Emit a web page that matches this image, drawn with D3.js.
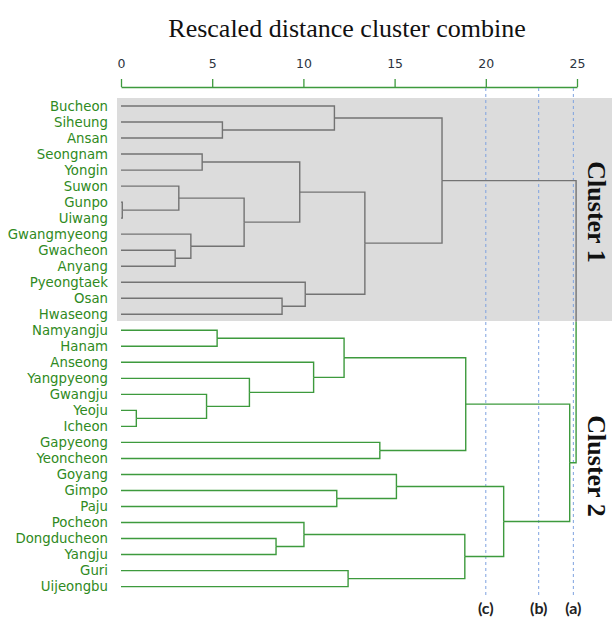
<!DOCTYPE html>
<html>
<head>
<meta charset="utf-8">
<script src="https://cdn.jsdelivr.net/npm/d3@7"></script>
<style>
  html, body { margin: 0; padding: 0; background: #fff; }
  svg { display: block; }
</style>
</head>
<body>
<svg id="chart" width="612" height="617"></svg>
<script>
// ---- data ----
const leaves = ["Bucheon","Siheung","Ansan","Seongnam","Yongin","Suwon","Gunpo","Uiwang",
  "Gwangmyeong","Gwacheon","Anyang","Pyeongtaek","Osan","Hwaseong",
  "Namyangju","Hanam","Anseong","Yangpyeong","Gwangju","Yeoju","Icheon","Gapyeong",
  "Yeoncheon","Goyang","Gimpo","Paju","Pocheon","Dongducheon","Yangju","Guri","Uijeongbu"];
const cluster1 = leaves.slice(0, 14);
// merge steps: each pair joins two leaves (by name) or earlier merges ("m" + index)
const mergePairs = [
  ["Gunpo","Uiwang"],["Yeoju","Icheon"],["Gwacheon","Anyang"],["Suwon","m0"],
  ["Gwangmyeong","m2"],["Seongnam","Yongin"],["Gwangju","m1"],["Namyangju","Hanam"],
  ["Siheung","Ansan"],["m3","m4"],["Yangpyeong","m6"],["Dongducheon","Yangju"],
  ["Osan","Hwaseong"],["m5","m9"],["Pocheon","m11"],["Pyeongtaek","m12"],
  ["Anseong","m10"],["Bucheon","m8"],["Gimpo","Paju"],["m7","m16"],
  ["Guri","Uijeongbu"],["m13","m15"],["Gapyeong","Yeoncheon"],["Goyang","m18"],
  ["m17","m21"],["m14","m20"],["m19","m22"],["m23","m25"],["m26","m27"],["m24","m28"]
];
const mergeHeights = [0.07,0.84,2.97,3.17,3.83,4.45,4.69,5.27,5.56,6.75,7.04,8.5,8.83,9.8,
  10.03,10.1,10.56,11.7,11.83,12.23,12.45,13.37,14.19,15.1,17.6,18.85,18.9,20.98,24.6,24.95];
const axisTicks = [0,5,10,15,20,25];
const cutLevels = [20, 22.9, 24.8];
const cutLabels = ["(c)","(b)","(a)"];
const clusterLabels = ["Cluster 1","Cluster 2"];

// ---- scales ----
const svg = d3.select("#chart");
const x = d3.scaleLinear().domain([0, 25]).range([121, 577]);
const y = d3.scalePoint().domain(leaves).range([106, 586.6]);

const greyLine = "#737373", greenLine = "#3d9a3d", labelGreen = "#2f8a22";

// node positions
const nodes = {};
leaves.forEach(l => nodes[l] = {h: 0, y: y(l), c1: cluster1.includes(l)});
mergePairs.forEach((p, i) => {
  const a = nodes[p[0]], b = nodes[p[1]];
  nodes["m" + i] = {h: mergeHeights[i], y: (a.y + b.y) / 2, c1: a.c1 && b.c1, kids: p};
});

// grey background for cluster 1
svg.append("rect")
  .attr("x", 117).attr("y", 98)
  .attr("width", 612 - 117).attr("height", 321 - 98)
  .attr("fill", "#dcdcdc");

// title
svg.append("text")
  .attr("x", 347).attr("y", 37)
  .attr("text-anchor", "middle")
  .attr("font-family", "Liberation Serif, Times New Roman, serif")
  .attr("font-size", 26)
  .attr("fill", "#111")
  .text("Rescaled distance cluster combine");

// axis
const axis = svg.append("g")
  .attr("transform", "translate(0,87)")
  .call(d3.axisTop(x).tickValues(axisTicks).tickSize(8).tickSizeOuter(0).tickPadding(11));
axis.select(".domain").attr("stroke", "#3d9a3d").attr("stroke-width", 1.3);
axis.selectAll(".tick line").attr("stroke", "#3d9a3d").attr("stroke-width", 1.3);
axis.selectAll(".tick text")
  .attr("font-family", "DejaVu Sans, Verdana, sans-serif")
  .attr("font-size", 12.5)
  .attr("fill", "#2c3440");

// cut lines
const cuts = svg.append("g");
cutLevels.forEach((v, i) => {
  cuts.append("line")
    .attr("x1", x(v)).attr("x2", x(v))
    .attr("y1", 88).attr("y2", 598)
    .attr("stroke", "#7ea2e0").attr("stroke-width", 1)
    .attr("stroke-dasharray", "3,3");
  cuts.append("text")
    .attr("x", x(v)).attr("y", 614)
    .attr("text-anchor", "middle")
    .attr("font-family", "Lato, Open Sans, sans-serif")
    .attr("font-weight", "bold")
    .attr("font-size", 16)
    .attr("fill", "#222")
    .text(cutLabels[i]);
});

// links
const links = svg.append("g").attr("fill", "none").attr("stroke-width", 1.4);
Object.keys(nodes).forEach(k => {
  const n = nodes[k];
  if (!n.kids) return;
  n.kids.forEach(ck => {
    const c = nodes[ck];
    const p = d3.path();
    p.moveTo(x(c.h), c.y);
    p.lineTo(x(n.h), c.y);
    p.lineTo(x(n.h), n.y);
    links.append("path")
      .attr("d", p.toString())
      .attr("stroke", c.c1 ? greyLine : greenLine);
  });
});

// leaf labels
svg.append("g").selectAll("text")
  .data(leaves)
  .join("text")
  .attr("x", 108).attr("y", d => y(d))
  .attr("dy", "0.36em")
  .attr("text-anchor", "end")
  .attr("font-family", "DejaVu Sans, Verdana, sans-serif")
  .attr("font-size", 13.3)
  .attr("fill", labelGreen)
  .text(d => d);

// cluster labels (rotated)
const clusterCenters = [212, 466];
clusterLabels.forEach((t, i) => {
  svg.append("text")
    .attr("transform", `translate(588,${clusterCenters[i]}) rotate(90)`)
    .attr("text-anchor", "middle")
    .attr("font-family", "Liberation Serif, Times New Roman, serif")
    .attr("font-weight", "bold")
    .attr("font-size", 26)
    .attr("fill", "#111")
    .text(t);
});
</script>
</body>
</html>
